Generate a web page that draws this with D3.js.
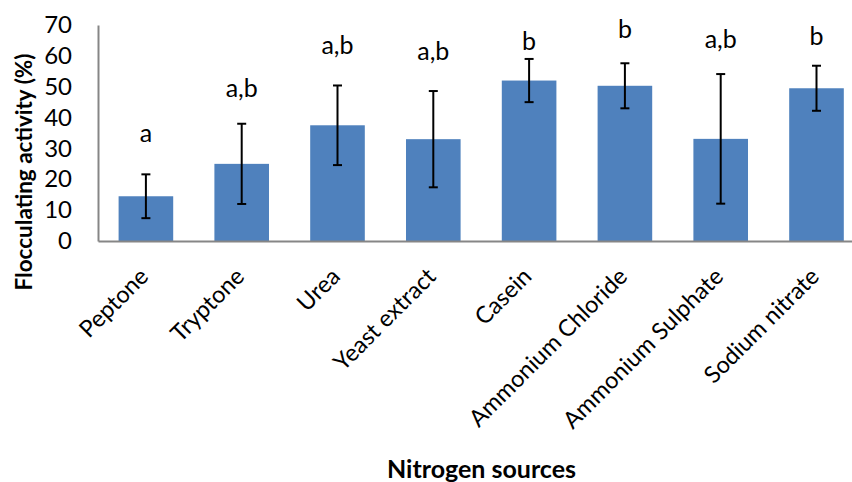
<!DOCTYPE html>
<html>
<head>
<meta charset="utf-8">
<script src="https://cdn.jsdelivr.net/npm/d3@7"></script>
<style>
  html, body { margin: 0; padding: 0; background: #fff; }
  svg { display: block; }
  text { font-family: Lato, "Noto Sans", sans-serif; fill: #000; }
</style>
</head>
<body>
<svg id="chart" width="852" height="482"></svg>
<script>
const categories = ["Peptone", "Tryptone", "Urea", "Yeast extract", "Casein",
  "Ammonium Chloride", "Ammonium Sulphate", "Sodium nitrate"];
const means = [14.5, 25.0, 37.5, 33.0, 52.0, 50.3, 33.1, 49.5];
const errors = [7.1, 13.0, 12.9, 15.6, 7.0, 7.3, 21.0, 7.3];
const letters = ["a", "a,b", "a,b", "a,b", "b", "b", "a,b", "b"];
const letterAt = [32.1, 46.8, 60.5, 58.7, 61.9, 65.7, 62.6, 63.5];
const yTicks = [0, 10, 20, 30, 40, 50, 60, 70];

const svg = d3.select("#chart");
const plotLeft = 98, plotTop = 25, plotBottom = 241, step = 95.8;
const plotRight = plotLeft + step * categories.length;

const x = d3.scaleBand().domain(categories).range([plotLeft, plotRight])
  .paddingInner(0.43).paddingOuter(0.215);
const y = d3.scaleLinear().domain([0, 70]).range([plotBottom, plotTop]);

// bars
svg.append("g").selectAll("rect").data(categories).join("rect")
  .attr("x", d => x(d))
  .attr("y", (d, i) => y(means[i]))
  .attr("width", x.bandwidth())
  .attr("height", (d, i) => y(0) - y(means[i]))
  .attr("fill", "#4F81BD");

// error bars
const eb = svg.append("g").attr("stroke", "#000").attr("stroke-width", 2);
categories.forEach((c, i) => {
  const cx = x(c) + x.bandwidth() / 2;
  const y1 = y(means[i] + errors[i]), y2 = y(means[i] - errors[i]);
  eb.append("line").attr("x1", cx).attr("x2", cx).attr("y1", y1).attr("y2", y2);
  eb.append("line").attr("x1", cx - 4.5).attr("x2", cx + 4.5).attr("y1", y1).attr("y2", y1);
  eb.append("line").attr("x1", cx - 4.5).attr("x2", cx + 4.5).attr("y1", y2).attr("y2", y2);
});

// significance letters
svg.append("g").selectAll("text").data(categories).join("text")
  .attr("x", d => x(d) + x.bandwidth() / 2)
  .attr("y", (d, i) => y(letterAt[i]))
  .attr("text-anchor", "middle")
  .attr("font-size", 25)
  .text((d, i) => letters[i]);

// y axis
const yAxis = d3.axisLeft(y).tickValues(yTicks).tickSize(0).tickPadding(26);
const gy = svg.append("g").attr("transform", `translate(${plotLeft},0)`).call(yAxis);
gy.select(".domain").attr("stroke", "#868686").attr("stroke-width", 2);
gy.selectAll("text").attr("font-size", 24).attr("font-family", "Lato, 'Noto Sans', sans-serif").attr("fill", "#000");

// x axis
const xAxis = d3.axisBottom(x).tickSize(0).tickFormat("");
const gx = svg.append("g").attr("transform", `translate(0,${plotBottom})`).call(xAxis);
gx.select(".domain").attr("stroke", "#868686").attr("stroke-width", 2);

// category labels
svg.append("g").selectAll("text").data(categories).join("text")
  .attr("transform", d => `translate(${x(d) + x.bandwidth() / 2 + 4},278) rotate(-45)`)
  .attr("text-anchor", "end")
  .attr("font-size", 23.5)
  .text(d => d);

// axis titles
svg.append("text")
  .attr("transform", "translate(32,172) rotate(-90)")
  .attr("text-anchor", "middle")
  .attr("font-size", 22.5).attr("font-weight", "bold")
  .text("Flocculating activity (%)");

svg.append("text")
  .attr("x", 481.5).attr("y", 478)
  .attr("text-anchor", "middle")
  .attr("font-size", 25).attr("font-weight", "bold")
  .text("Nitrogen sources");
</script>
</body>
</html>
